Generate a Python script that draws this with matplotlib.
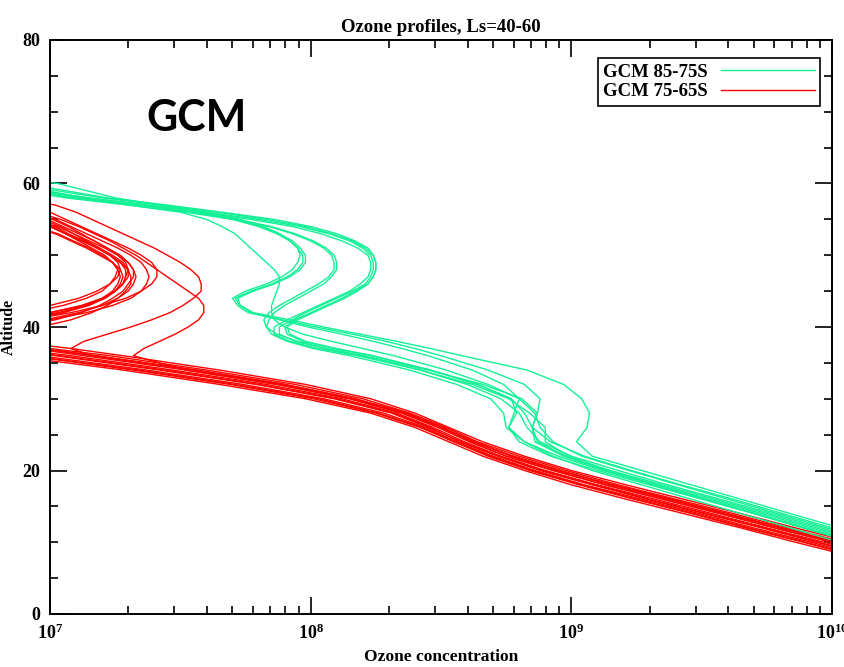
import numpy as np
import matplotlib.pyplot as plt
from matplotlib.ticker import FixedLocator, FixedFormatter, LogLocator, NullFormatter, MultipleLocator

plt.rcParams['font.family'] = 'serif'
plt.rcParams['font.serif'] = ['Liberation Serif', 'DejaVu Serif']
plt.rcParams['font.weight'] = 'bold'
plt.rcParams['mathtext.fontset'] = 'custom'
plt.rcParams['mathtext.bf'] = 'Liberation Serif:bold'
plt.rcParams['mathtext.rm'] = 'Liberation Serif:bold'

# model levels (km): 2 km below 36, 1 km through the ozone layer
altitude = list(range(8, 37, 2)) + list(range(37, 58)) + [58, 60, 62]

# log10 of ozone concentration at each level, 85-75S band
green_profiles = [
    [10.32, 10.13, 9.94, 9.75, 9.55, 9.35, 9.15, 8.98, 8.87, 8.85, 8.87, 8.81, 8.66, 8.45, 8.20,
     8.06, 7.94, 7.88, 7.88, 7.93, 7.98, 8.04, 8.10, 8.16, 8.21, 8.23, 8.24, 8.24, 8.23, 8.20,
     8.15, 8.07, 7.96, 7.80, 7.60, 7.38,
     7.15, 6.75, 6.35],
    [10.30, 10.11, 9.92, 9.73, 9.53, 9.33, 9.14, 8.99, 8.90, 8.90, 8.84, 8.76, 8.62, 8.42, 8.18,
     8.03, 7.92, 7.86, 7.86, 7.91, 7.97, 8.03, 8.09, 8.15, 8.19, 8.22, 8.23, 8.23, 8.22, 8.18,
     8.12, 8.04, 7.93, 7.77, 7.57, 7.34,
     7.10, 6.70, 6.30],
    [10.27, 10.08, 9.89, 9.70, 9.50, 9.30, 9.10, 8.92, 8.80, 8.76, 8.79, 8.77, 8.64, 8.46, 8.23,
     8.09, 7.97, 7.91, 7.90, 7.94, 8.00, 8.06, 8.12, 8.17, 8.22, 8.24, 8.25, 8.25, 8.24, 8.21,
     8.16, 8.08, 7.98, 7.83, 7.64, 7.42,
     7.20, 6.85, 6.45],
    [10.38, 10.19, 10.00, 9.81, 9.62, 9.42, 9.23, 9.05, 8.92, 8.85, 8.82, 8.77, 8.64, 8.46, 8.24,
     8.10, 7.98, 7.92, 7.91, 7.95, 8.01, 8.07, 8.13, 8.18, 8.22, 8.24, 8.25, 8.25, 8.24, 8.22,
     8.17, 8.10, 8.00, 7.86, 7.66, 7.45,
     7.22, 6.90, 6.50],
    [10.34, 10.15, 9.96, 9.77, 9.57, 9.37, 9.18, 9.00, 8.88, 8.83, 8.80, 8.73, 8.60, 8.42, 8.20,
     8.06, 7.95, 7.87, 7.83, 7.82, 7.84, 7.88, 7.93, 7.98, 8.03, 8.07, 8.09, 8.09, 8.08, 8.05,
     8.00, 7.93, 7.84, 7.70, 7.52, 7.30,
     7.08, 6.75, 6.35],
    [10.22, 10.03, 9.84, 9.65, 9.46, 9.27, 9.08, 8.93, 8.82, 8.75, 8.74, 8.69, 8.56, 8.38, 8.15,
     8.01, 7.91, 7.85, 7.83, 7.84, 7.86, 7.90, 7.95, 8.00, 8.05, 8.08, 8.10, 8.10, 8.09, 8.06,
     8.01, 7.94, 7.85, 7.72, 7.55, 7.34,
     7.12, 6.78, 6.38],
    [10.41, 10.22, 10.03, 9.84, 9.65, 9.46, 9.27, 9.08, 9.02, 9.06, 9.07, 9.04, 8.97, 8.83, 8.58,
     8.46, 8.33, 8.19, 8.05, 7.92, 7.78, 7.73, 7.71, 7.77, 7.85, 7.91, 7.95, 7.97, 7.97, 7.95,
     7.92, 7.87, 7.80, 7.70, 7.55, 7.35,
     7.12, 6.85, 6.45],
    [10.27, 10.08, 9.89, 9.70, 9.51, 9.32, 9.13, 8.97, 8.86, 8.85, 8.87, 8.88, 8.82, 8.68, 8.50,
     8.40, 8.29, 8.16, 8.02, 7.89, 7.76, 7.72, 7.70, 7.75, 7.83, 7.89, 7.93, 7.95, 7.96, 7.95,
     7.92, 7.88, 7.82, 7.73, 7.60, 7.42,
     7.25, 7.03, 6.60],
    [10.28, 10.09, 9.90, 9.71, 9.51, 9.32, 9.12, 8.95, 8.82, 8.76, 8.78, 8.80, 8.74, 8.62, 8.45,
     8.35, 8.24, 8.12, 7.99, 7.88, 7.77, 7.73, 7.72, 7.78, 7.86, 7.92, 7.96, 7.98, 7.98, 7.96,
     7.93, 7.88, 7.81, 7.71, 7.56, 7.36,
     7.14, 6.82, 6.45],
    [10.36, 10.17, 9.98, 9.79, 9.60, 9.41, 9.22, 9.04, 8.93, 8.88, 8.86, 8.80, 8.68, 8.52, 8.32,
     8.20, 8.08, 7.97, 7.90, 7.86, 7.85, 7.85, 7.86, 7.87, 7.88, 7.88, 7.86, 7.83, 7.80, 7.77,
     7.74, 7.71, 7.66, 7.60, 7.50, 7.30,
     7.06, 6.72, 6.30],
]

# log10 of ozone concentration at each level, 75-65S band
red_profiles = [
    [10.18, 9.97, 9.75, 9.54, 9.32, 9.10, 8.90, 8.73, 8.59, 8.47, 8.33, 8.12, 7.83, 7.47, 7.08,
     6.85, 6.50, 6.45, 6.60, 6.85, 7.03, 7.14, 7.21, 7.25, 7.28, 7.29, 7.29, 7.27, 7.23, 7.18,
     7.12, 7.06, 7.00, 6.88, 6.70, 6.50,
     6.30, 6.00, 5.80],
    [10.26, 10.05, 9.83, 9.62, 9.40, 9.18, 8.98, 8.80, 8.64, 8.52, 8.38, 8.20, 7.94, 7.60, 7.23,
     7.00, 6.60, 6.55, 6.75, 6.98, 7.11, 7.20, 7.26, 7.30, 7.32, 7.33, 7.32, 7.30, 7.27, 7.22,
     7.17, 7.11, 7.05, 6.99, 6.80, 6.55,
     6.30, 6.00, 5.80],
    [10.13, 9.92, 9.70, 9.49, 9.27, 9.05, 8.86, 8.70, 8.56, 8.44, 8.28, 8.05, 7.74, 7.37, 6.96,
     6.68, 6.35, 6.30, 6.45, 6.70, 6.92, 7.05, 7.14, 7.20, 7.23, 7.25, 7.26, 7.24, 7.20, 7.15,
     7.09, 7.03, 6.94, 6.80, 6.60, 6.40,
     6.20, 5.90, 5.80],
    [10.21, 10.00, 9.78, 9.57, 9.35, 9.13, 8.93, 8.75, 8.61, 8.49, 8.35, 8.15, 7.87, 7.52, 7.13,
     6.93, 6.70, 6.78, 6.96, 7.08, 7.16, 7.22, 7.26, 7.29, 7.31, 7.31, 7.30, 7.27, 7.23, 7.18,
     7.13, 7.07, 7.02, 6.92, 6.75, 6.55,
     6.30, 6.00, 5.80],
    [10.08, 9.86, 9.65, 9.43, 9.21, 9.00, 8.82, 8.66, 8.53, 8.40, 8.23, 7.98, 7.65, 7.28, 6.85,
     6.50, 6.30, 6.25, 6.35, 6.60, 6.85, 7.00, 7.11, 7.18, 7.23, 7.26, 7.27, 7.26, 7.23, 7.19,
     7.14, 7.09, 7.04, 6.97, 6.80, 6.60,
     6.30, 6.00, 5.80],
    [10.24, 10.02, 9.81, 9.59, 9.38, 9.16, 8.95, 8.77, 8.63, 8.50, 8.37, 8.17, 7.90, 7.56, 7.18,
     6.97, 6.55, 6.50, 6.65, 6.90, 7.05, 7.15, 7.21, 7.25, 7.28, 7.30, 7.30, 7.29, 7.26, 7.22,
     7.17, 7.12, 7.07, 7.01, 6.85, 6.65,
     6.35, 6.00, 5.80],
    [10.16, 9.94, 9.73, 9.51, 9.29, 9.08, 8.88, 8.72, 8.58, 8.45, 8.31, 8.09, 7.79, 7.42, 7.02,
     6.78, 6.45, 6.40, 6.55, 6.80, 7.00, 7.12, 7.20, 7.25, 7.27, 7.28, 7.27, 7.24, 7.19, 7.14,
     7.08, 7.02, 6.92, 6.78, 6.60, 6.40,
     6.20, 5.90, 5.80],
    [10.29, 10.08, 9.86, 9.65, 9.43, 9.21, 9.00, 8.82, 8.66, 8.53, 8.40, 8.23, 7.98, 7.65, 7.28,
     7.08, 6.85, 6.70, 6.85, 7.02, 7.12, 7.19, 7.24, 7.28, 7.30, 7.32, 7.32, 7.30, 7.26, 7.21,
     7.15, 7.09, 7.03, 6.92, 6.75, 6.55,
     6.30, 6.00, 5.80],
    [10.10, 9.89, 9.67, 9.46, 9.24, 9.03, 8.84, 8.68, 8.55, 8.42, 8.25, 8.01, 7.69, 7.32, 6.91,
     6.62, 6.50, 6.65, 6.82, 7.00, 7.14, 7.24, 7.31, 7.35, 7.37, 7.38, 7.37, 7.35, 7.31, 7.26,
     7.20, 7.14, 7.08, 7.02, 6.85, 6.60,
     6.30, 6.00, 5.80],
    [10.15, 9.95, 9.74, 9.52, 9.30, 9.09, 8.89, 8.72, 8.57, 8.46, 8.32, 8.10, 7.80, 7.44, 7.04,
     6.80, 6.55, 6.55, 6.72, 6.92, 7.08, 7.20, 7.29, 7.35, 7.39, 7.41, 7.41, 7.39, 7.35, 7.30,
     7.24, 7.18, 7.12, 7.06, 7.00, 6.75,
     6.40, 6.00, 5.80],
    [10.24, 10.02, 9.81, 9.59, 9.38, 9.16, 8.95, 8.77, 8.63, 8.50, 8.37, 8.17, 7.90, 7.56, 7.16,
     7.08, 7.13, 7.22, 7.31, 7.39, 7.46, 7.51, 7.55, 7.58, 7.58, 7.57, 7.54, 7.50, 7.45, 7.40,
     7.34, 7.28, 7.22, 7.16, 7.10, 7.02,
     6.85, 6.40, 6.00],
    [10.21, 10.00, 9.78, 9.57, 9.35, 9.13, 8.93, 8.75, 8.61, 8.49, 8.35, 8.15, 7.87, 7.52, 7.32,
     7.36, 7.42, 7.48, 7.53, 7.57, 7.59, 7.59, 7.57, 7.53, 7.49, 7.45, 7.41, 7.37, 7.33, 7.28,
     7.23, 7.17, 7.11, 7.04, 6.95, 6.80,
     6.60, 6.30, 6.00],
    [10.23, 10.03, 9.80, 9.60, 9.37, 9.15, 8.96, 8.78, 8.62, 8.51, 8.36, 8.16, 7.89, 7.55, 7.17,
     6.95, 6.55, 6.55, 6.72, 6.92, 7.05, 7.14, 7.20, 7.24, 7.26, 7.27, 7.26, 7.24, 7.21, 7.16,
     7.11, 7.06, 7.01, 6.90, 6.72, 6.50,
     6.30, 6.00, 5.80],
    [10.11, 9.90, 9.68, 9.47, 9.25, 9.04, 8.85, 8.69, 8.55, 8.43, 8.26, 8.03, 7.71, 7.34, 6.92,
     6.62, 6.35, 6.35, 6.52, 6.78, 7.00, 7.13, 7.21, 7.25, 7.28, 7.29, 7.30, 7.28, 7.24, 7.19,
     7.13, 7.06, 7.00, 6.88, 6.70, 6.50,
     6.30, 6.00, 5.80],
]

green = '#14f096'
red = '#ff0000'

fig = plt.figure(figsize=(8.44, 6.67), dpi=100)
ax = fig.add_axes([50 / 844, 53 / 667, 782 / 844, 574 / 667])

for i, p in enumerate(red_profiles):
    ax.plot(10 ** np.array(p), altitude, color=red, lw=1.0,
            label='GCM 75-65S' if i == 0 else None)
for i, p in enumerate(green_profiles):
    ax.plot(10 ** np.array(p), altitude, color=green, lw=1.0,
            label='GCM 85-75S' if i == 0 else None)

ax.set_xscale('log')
ax.set_xlim(1e7, 1e10)
ax.set_ylim(0, 80)

ax.xaxis.set_major_locator(FixedLocator([1e7, 1e8, 1e9, 1e10]))
ax.xaxis.set_major_formatter(FixedFormatter([r'$\mathbf{10^{7}}$', r'$\mathbf{10^{8}}$',
                                             r'$\mathbf{10^{9}}$', r'$\mathbf{10^{10}}$']))
ax.xaxis.set_minor_locator(LogLocator(base=10, subs=np.arange(2, 10)))
ax.xaxis.set_minor_formatter(NullFormatter())
ax.yaxis.set_major_locator(MultipleLocator(20))
ax.yaxis.set_minor_locator(MultipleLocator(5))

ax.tick_params(which='both', direction='in', top=True, right=True, width=1.2, color='black')
ax.tick_params(which='major', length=12, labelsize=13, pad=7)
ax.tick_params(which='minor', length=6)
for lab in ax.get_yticklabels():
    lab.set_fontweight('bold')
for s in ax.spines.values():
    s.set_linewidth(1.4)

ax.set_title('Ozone profiles, Ls=40-60', fontsize=13.5, fontweight='bold', pad=6)
ax.set_xlabel('Ozone concentration', fontsize=12.5, fontweight='bold', labelpad=4)
ax.set_ylabel('Altitude', fontsize=11.5, fontweight='bold', labelpad=4)

ax.text(0.188, 0.864, 'GCM', transform=ax.transAxes, ha='center', va='center',
        fontsize=31, fontweight='bold', family=['Lato', 'DejaVu Sans'])

handles, labels = ax.get_legend_handles_labels()
leg = ax.legend(handles[::-1], labels[::-1], loc='upper right', bbox_to_anchor=(0.985, 0.969),
                markerfirst=False, handlelength=5.0, fancybox=False, framealpha=1,
                edgecolor='black', prop={'family': 'serif', 'weight': 'bold', 'size': 13.5},
                borderpad=0.3, labelspacing=0.15, handletextpad=0.7, borderaxespad=0)
leg.get_frame().set_linewidth(1.2)

fig.savefig('out.png', dpi=100)
